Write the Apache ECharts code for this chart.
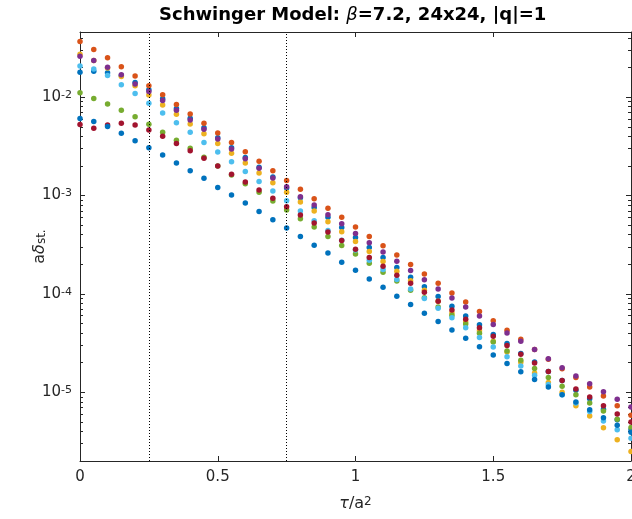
<!DOCTYPE html>
<html><head><meta charset="utf-8">
<script src="https://cdn.jsdelivr.net/npm/echarts@6/dist/echarts.min.js"></script>
<style>html,body{margin:0;padding:0;background:#fff}#c{width:632px;height:519px}</style>
</head><body><div id="c"></div>
<script>
const tau = [0,0.05,0.1,0.15,0.2,0.25,0.3,0.35,0.4,0.45,0.5,0.55,0.6,0.65,0.7,0.75,0.8,0.85,0.9,0.95,1,1.05,1.1,1.15,1.2,1.25,1.3,1.35,1.4,1.45,1.5,1.55,1.6,1.65,1.7,1.75,1.8,1.85,1.9,1.95,2];
const s1 = [0.0179,0.0183,0.0177,0.0166,0.0141,0.0119,0.00963,0.00766,0.00611,0.0049,0.00387,0.00307,0.00243,0.00194,0.00154,0.00119,9.50e-4,7.58e-4,6.00e-4,4.74e-4,3.75e-4,2.97e-4,2.35e-4,1.86e-4,1.48e-4,1.18e-4,9.41e-5,7.49e-5,5.97e-5,4.86e-5,3.87e-5,3.13e-5,2.48e-5,2.03e-5,1.63e-5,1.32e-5,1.05e-5,8.61e-6,6.70e-6,5.26e-6,4.16e-6];
const s2 = [0.0368,0.0305,0.0252,0.0204,0.0164,0.0131,0.0106,0.00841,0.00676,0.00544,0.00433,0.00347,0.00279,0.00223,0.00179,0.00142,0.00116,9.28e-4,7.41e-4,6.00e-4,4.78e-4,3.84e-4,3.08e-4,2.48e-4,1.99e-4,1.59e-4,1.28e-4,1.02e-4,8.25e-5,6.62e-5,5.34e-5,4.27e-5,3.45e-5,2.72e-5,2.16e-5,1.73e-5,1.41e-5,1.13e-5,9.15e-6,7.30e-6,5.82e-6];
const s3 = [0.0274,0.0236,0.0198,0.0162,0.0131,0.0105,0.00835,0.00671,0.00535,0.00426,0.00339,0.00269,0.00214,0.00170,0.00135,0.00108,8.59e-4,6.95e-4,5.41e-4,4.28e-4,3.41e-4,2.70e-4,2.14e-4,1.70e-4,1.36e-4,1.09e-4,8.43e-5,6.40e-5,5.19e-5,4.22e-5,3.30e-5,2.57e-5,2.02e-5,1.57e-5,1.26e-5,1.00e-5,7.30e-6,5.72e-6,4.36e-6,3.29e-6,2.50e-6];
const s4 = [0.0260,0.0236,0.0201,0.0169,0.0136,0.0114,0.00923,0.00737,0.00587,0.00472,0.00376,0.00298,0.00237,0.00189,0.00151,0.00123,9.72e-4,8.00e-4,6.37e-4,5.16e-4,4.12e-4,3.31e-4,2.66e-4,2.15e-4,1.73e-4,1.39e-4,1.12e-4,9.10e-5,7.37e-5,5.97e-5,4.89e-5,4.01e-5,3.30e-5,2.72e-5,2.19e-5,1.77e-5,1.46e-5,1.22e-5,1.01e-5,8.47e-6,7.06e-6];
const s5 = [0.0111,0.00972,0.00854,0.00737,0.00634,0.00531,0.00440,0.00365,0.00302,0.00245,0.00200,0.00162,0.00132,0.00108,8.79e-4,7.12e-4,5.80e-4,4.78e-4,3.84e-4,3.11e-4,2.54e-4,2.05e-4,1.66e-4,1.35e-4,1.09e-4,9.15e-5,7.37e-5,6.07e-5,4.93e-5,3.97e-5,3.25e-5,2.63e-5,2.12e-5,1.74e-5,1.41e-5,1.15e-5,9.41e-6,7.76e-6,6.43e-6,5.30e-6,4.38e-6];
const s6 = [0.0208,0.0193,0.0166,0.0134,0.0109,0.00869,0.00692,0.00551,0.00440,0.00347,0.00277,0.00221,0.00176,0.00139,0.00111,8.85e-4,6.95e-4,5.54e-4,4.42e-4,3.52e-4,2.79e-4,2.20e-4,1.77e-4,1.40e-4,1.12e-4,8.98e-5,7.15e-5,5.72e-5,4.53e-5,3.61e-5,2.89e-5,2.30e-5,1.85e-5,1.49e-5,1.20e-5,9.41e-6,7.76e-6,6.39e-6,5.09e-6,4.16e-6,3.41e-6];
const s7 = [0.00527,0.00484,0.00520,0.00544,0.00522,0.00465,0.00401,0.00339,0.00286,0.00239,0.00200,0.00165,0.00137,0.00114,9.36e-4,7.69e-4,6.33e-4,5.25e-4,4.25e-4,3.49e-4,2.85e-4,2.35e-4,1.91e-4,1.55e-4,1.28e-4,1.04e-4,8.43e-5,6.85e-5,5.52e-5,4.53e-5,3.71e-5,2.98e-5,2.43e-5,1.98e-5,1.63e-5,1.32e-5,1.08e-5,8.93e-6,7.30e-6,6.00e-6,4.97e-6];
const s8 = [0.00608,0.00567,0.00504,0.00430,0.00361,0.00307,0.00259,0.00214,0.00179,0.00150,0.00121,0.00101,8.39e-4,6.90e-4,5.67e-4,4.67e-4,3.84e-4,3.13e-4,2.60e-4,2.10e-4,1.74e-4,1.42e-4,1.17e-4,9.47e-5,7.80e-5,6.36e-5,5.24e-5,4.30e-5,3.54e-5,2.91e-5,2.39e-5,1.96e-5,1.62e-5,1.35e-5,1.13e-5,9.41e-6,7.98e-6,6.62e-6,5.51e-6,4.63e-6,3.93e-6];
const seriesList = [s1, s2, s3, s4, s5, s6, s7, s8];
const colors = ['#0072BD','#D95319','#EDB120','#7E2F8E','#77AC30','#4DBEEE','#A2142F','#0072BD'];
const xTicks = [0, 0.5, 1, 1.5, 2];
const yMajor = [1e-5, 1e-4, 1e-3, 1e-2];
const yMinor = [2e-6,3e-6,4e-6,5e-6,6e-6,7e-6,8e-6,9e-6,2e-5,3e-5,4e-5,5e-5,6e-5,7e-5,8e-5,9e-5,2e-4,3e-4,4e-4,5e-4,6e-4,7e-4,8e-4,9e-4,2e-3,3e-3,4e-3,5e-3,6e-3,7e-3,8e-3,9e-3,2e-2,3e-2,4e-2];
const refLines = [0.25, 0.75];
const YMIN = 2e-6, YMAX = 0.046;

const FONT = 'DejaVu Sans';
const AX = '#262626';
const chart = echarts.init(document.getElementById('c'), null, {renderer: 'canvas'});

function yAx(pos, ticks, len, labels, line) {
  return {
    type: 'log', position: pos, min: YMIN, max: YMAX, logBase: 10,
    axisLine: {show: line, lineStyle: {color: AX, width: 1}},
    axisTick: {show: true, inside: true, length: len, customValues: ticks, lineStyle: {color: AX, width: 1}},
    minorTick: {show: false},
    splitLine: {show: false},
    axisLabel: labels ? {
      show: true, customValues: yMajor, margin: 8, color: AX, fontFamily: FONT,
      formatter: v => '{b|10}{s|' + Math.round(Math.log10(v)) + '}',
      rich: {
        b: {fontSize: 15, fontFamily: FONT, color: AX, lineHeight: 15, padding: [6, 0, 0, 0], verticalAlign: 'bottom'},
        s: {fontSize: 11, fontFamily: FONT, color: AX, lineHeight: 11, verticalAlign: 'top'}
      }
    } : {show: false},
    name: labels ? '{n|a}{g|δ}{s|st.}' : '',
    nameLocation: 'middle', nameGap: 32, nameRotate: 90, nameMoveOverlap: false,
    nameTextStyle: {
      fontFamily: FONT, color: AX,
      rich: {
        n: {fontSize: 16, fontFamily: FONT, color: AX, lineHeight: 16, verticalAlign: 'top'},
        g: {fontSize: 16, fontFamily: FONT, color: AX, fontStyle: 'italic', lineHeight: 16, verticalAlign: 'top'},
        s: {fontSize: 12, fontFamily: FONT, color: AX, lineHeight: 12, padding: [10, 0, 0, 0], verticalAlign: 'bottom'}
      }
    }
  };
}

function xAx(pos, labels) {
  return {
    type: 'value', position: pos, min: 0, max: 2, interval: 0.5,
    axisLine: {show: true, onZero: false, lineStyle: {color: AX, width: 1}},
    axisTick: {show: true, inside: true, length: 5, lineStyle: {color: AX, width: 1}},
    splitLine: {show: false},
    axisLabel: labels ? {show: true, color: AX, fontSize: 15, fontFamily: FONT, margin: 9,
      customValues: xTicks} : {show: false},
    name: labels ? '{g|τ}{n|/a}{s|2}' : '',
    nameLocation: 'middle', nameGap: 35, nameMoveOverlap: false,
    nameTextStyle: {
      fontFamily: FONT, color: AX,
      rich: {
        g: {fontSize: 16, fontFamily: FONT, color: AX, fontStyle: 'italic', lineHeight: 16, padding: [6,0,0,0], verticalAlign: 'bottom'},
        n: {fontSize: 16, fontFamily: FONT, color: AX, lineHeight: 16, padding: [6,0,0,0], verticalAlign: 'bottom'},
        s: {fontSize: 12, fontFamily: FONT, color: AX, lineHeight: 12, verticalAlign: 'top'}
      }
    }
  };
}

const series = [{
  type: 'scatter', xAxisIndex: 0, yAxisIndex: 0, data: [], silent: true,
  markLine: {
    silent: true, symbol: 'none', label: {show: false}, animation: false,
    lineStyle: {type: [1, 2], color: '#000', width: 1},
    data: refLines.map(v => ({xAxis: v}))
  }
}];
seriesList.forEach((arr, k) => {
  series.push({
    type: 'scatter', xAxisIndex: 0, yAxisIndex: 0,
    symbol: 'circle', symbolSize: 5.5,
    itemStyle: {color: colors[k], opacity: 1},
    data: tau.map((t, i) => [t, arr[i]]),
    silent: true
  });
});

chart.setOption({
  animation: false,
  backgroundColor: '#fff',
  title: {
    text: '{b|Schwinger Model: }{g|β}{b|=7.2, 24x24, |q|=1}',
    left: 154, top: 1,
    textStyle: {
      rich: {
        b: {fontSize: 18, fontWeight: 'bold', fontFamily: FONT, color: '#000'},
        g: {fontSize: 18, fontStyle: 'italic', fontWeight: 'normal', fontFamily: FONT, color: '#000'}
      }
    }
  },
  grid: {left: 80, right: 1, top: 32, bottom: 58, containLabel: false, outerBoundsMode: 'none'},
  xAxis: [xAx('bottom', true), xAx('top', false)],
  yAxis: [
    yAx('left', yMajor, 5, true, true),
    yAx('left', yMinor, 3, false, false),
    yAx('right', yMajor, 5, false, true),
    yAx('right', yMinor, 3, false, false)
  ],
  series: series
});
</script>
</body></html>
